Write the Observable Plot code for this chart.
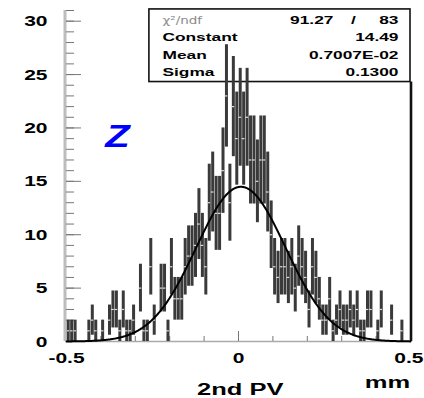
<!DOCTYPE html>
<html><head><meta charset="utf-8">
<script src="https://cdn.jsdelivr.net/npm/d3@7"></script>
<script src="https://cdn.jsdelivr.net/npm/@observablehq/plot@0.6"></script>
<style>html,body{margin:0;padding:0;background:#fff}</style>
</head><body><div id="chart"></div>
<script>
// Histogram binning
const binLow = -0.5;
const binWidth = 0.01;
// Bin contents (100 bins from -0.5 to 0.5 mm)
const counts = [
  1,1,1,0,0,0,1,2,1,0,
  1,0,2,3,3,1,3,1,1,2,
  0,5,1,1,7,2,0,5,5,1,
  7,4,4,4,7,8,8,9,11,9,
  7,13,14,12,12,16,23,13,22,19,
  21,19,21,17,17,15,17,17,14,10,
  7,6,7,7,6,7,5,8,7,6,
  3,7,6,4,2,2,4,1,2,3,
  2,2,3,2,3,1,1,3,3,0,
  1,3,0,0,2,0,0,1,0,0
];
// Gaussian fit parameters (from the stats box)
const fitConstant = 14.49;
const fitMean = 0.7007e-2;
const fitSigma = 0.1300;
const chi2Text = "91.27";
const ndfText = "83";
const statLabels = ["Constant", "Mean", "Sigma"];
const statValues = ["14.49", "0.7007E-02", "0.1300"];
// Axes
const yTicks = [0, 5, 10, 15, 20, 25, 30];
const yMinorTicks = d3.range(0, 32, 1);
const xTicks = [-0.5, 0, 0.5];
const xTickLabels = ["-0.5", "0", "0.5"];
const xMinorTicks = [-0.4, -0.3, -0.2, -0.1, 0.1, 0.2, 0.3, 0.4];
const xTitle = "2nd PV";
const xUnit = "mm";
const tag = "Z";

const bins = counts.map((n, i) => ({xc: binLow + (i + 0.5) * binWidth, n}));
const filled = bins.filter(d => d.n > 0);
const curve = d3.range(0, 501).map(i => {
  const x = -0.5 + i * 0.002;
  return {x, y: fitConstant * Math.exp(-0.5 * ((x - fitMean) / fitSigma) ** 2)};
});

const font = "'Liberation Sans', Arial, Helvetica, sans-serif";
const yTop = 31;
const boxLeft = -0.259, boxBottom = 24.3;
const rowY = [29.78, 28.15, 26.5, 24.9];
const tickText = {fontSize: 14, fontWeight: "bold", fontFamily: font, fill: "#000", lineAnchor: "bottom"};

const plot = Plot.plot({
  width: 424,
  height: 398,
  marginLeft: 66,
  marginRight: 14,
  marginTop: 10,
  marginBottom: 57,
  style: {background: "white", overflow: "visible"},
  x: {domain: [-0.5, 0.5], axis: null},
  y: {domain: [0, yTop], axis: null},
  marks: [
    // stats box
    Plot.rect([0], {x1: boxLeft, x2: 0.5, y1: boxBottom, y2: yTop + 0.1, fill: "white", stroke: "#111", strokeWidth: 1.6}),
    // frame lines
    Plot.ruleX([-0.5], {stroke: "#bdbdbd", strokeWidth: 3, dx: -1.5}),
    Plot.ruleY([0], {stroke: "#aaaaaa", strokeWidth: 1.5}),
    Plot.ruleX([0.5], {y1: 0, y2: boxBottom, stroke: "#111", strokeWidth: 2.6, dx: 0.5}),
    // y ticks (inward)
    Plot.axisY(yMinorTicks, {anchor: "left", tickSize: 8, dx: 8, tickFormat: () => "", label: null, stroke: "#777"}),
    Plot.axisY(yTicks, {anchor: "left", tickSize: 15, dx: 15, tickFormat: () => "", label: null, stroke: "#777"}),
    // x ticks (upward)
    Plot.axisX(xMinorTicks, {anchor: "bottom", tickSize: 5, dy: -5, tickFormat: () => "", label: null, stroke: "#777"}),
    Plot.axisX([0], {anchor: "bottom", tickSize: 10, dy: -10, tickFormat: () => "", label: null, stroke: "#777"}),
    // error bars
    Plot.ruleX(filled, {x: "xc", y1: d => d.n - Math.sqrt(d.n), y2: d => d.n + Math.sqrt(d.n), stroke: "#3a3a3a", strokeWidth: 3}),
    Plot.ruleY(filled, {y: "n", x1: d => d.xc - binWidth * 0.4, x2: d => d.xc + binWidth * 0.4, stroke: "#dddddd", strokeWidth: 1.2}),
    // fit
    Plot.line(curve, {x: "x", y: "y", stroke: "#000", strokeWidth: 2}),
    // tick labels
    Plot.text(yTicks, {x: -0.5, y: d => d, dx: -19, dy: 5, text: d => String(d), textAnchor: "end", ...tickText}),
    Plot.text(xTicks.slice(0, 2), {x: d => d, y: 0, dy: 21, text: (d, i) => xTickLabels[i], textAnchor: "middle", ...tickText}),
    Plot.text(xTicks.slice(2), {x: d => d, y: 0, dy: 21, dx: 13, text: () => xTickLabels[2], textAnchor: "end", ...tickText}),
    Plot.text([xTitle], {x: 0.005, y: 0, dy: 53, text: d => d, textAnchor: "middle", lineAnchor: "bottom", fontSize: 17, fontWeight: "bold", fontFamily: font, fill: "#000"}),
    Plot.text([xUnit], {x: 0.433, y: 0, dy: 46, text: d => d, textAnchor: "middle", lineAnchor: "bottom", fontSize: 17, fontWeight: "bold", fontFamily: font, fill: "#000"}),
    // tag
    Plot.text([tag], {x: -0.352, y: 18.17, text: d => d, textAnchor: "middle", lineAnchor: "bottom", fontSize: 32, fontWeight: "bold", fontStyle: "italic", fontFamily: font, fill: "#0000ff"}),
    // stats
    Plot.text(["χ²/ndf"], {x: -0.221, y: rowY[0], text: d => d, textAnchor: "start", lineAnchor: "bottom", fontSize: 10.4, fontFamily: "'DejaVu Sans', sans-serif", fill: "#8a8a8a"}),
    Plot.text(statLabels, {x: -0.221, y: (d, i) => rowY[i + 1], text: d => d, textAnchor: "start", lineAnchor: "bottom", fontSize: 10.5, fontWeight: "bold", fontFamily: font, fill: "#000"}),
    Plot.text(statValues, {x: 0.465, y: (d, i) => rowY[i + 1], text: d => d, textAnchor: "end", lineAnchor: "bottom", fontSize: 10.5, fontWeight: "bold", fontFamily: font, fill: "#000"}),
    Plot.text([chi2Text], {x: 0.276, y: rowY[0], text: d => d, textAnchor: "end", lineAnchor: "bottom", fontSize: 10.5, fontWeight: "bold", fontFamily: font, fill: "#000"}),
    Plot.text(["/"], {x: 0.334, y: rowY[0], text: d => d, textAnchor: "middle", lineAnchor: "bottom", fontSize: 10.5, fontWeight: "bold", fontFamily: font, fill: "#000"}),
    Plot.text([ndfText], {x: 0.465, y: rowY[0], text: d => d, textAnchor: "end", lineAnchor: "bottom", fontSize: 10.5, fontWeight: "bold", fontFamily: font, fill: "#000"})
  ]
});

// Horizontal stretch of text, as in the reference rendering
const stretch = {"14": 1.5, "17": 1.5, "10.5": 1.65, "10.4": 1.3, "32": 1.25};
plot.querySelectorAll("text").forEach(t => {
  const g = t.closest("[font-size]");
  const fs = g ? g.getAttribute("font-size") : null;
  const k = stretch[fs];
  if (!k) return;
  let tr = t.getAttribute("transform") || "";
  if (t.hasAttribute("x")) { tr += ` translate(${t.getAttribute("x")},0)`; t.removeAttribute("x"); }
  t.setAttribute("transform", `${tr} scale(${k},1)`);
});
document.getElementById("chart").appendChild(plot);
</script>
</body></html>
